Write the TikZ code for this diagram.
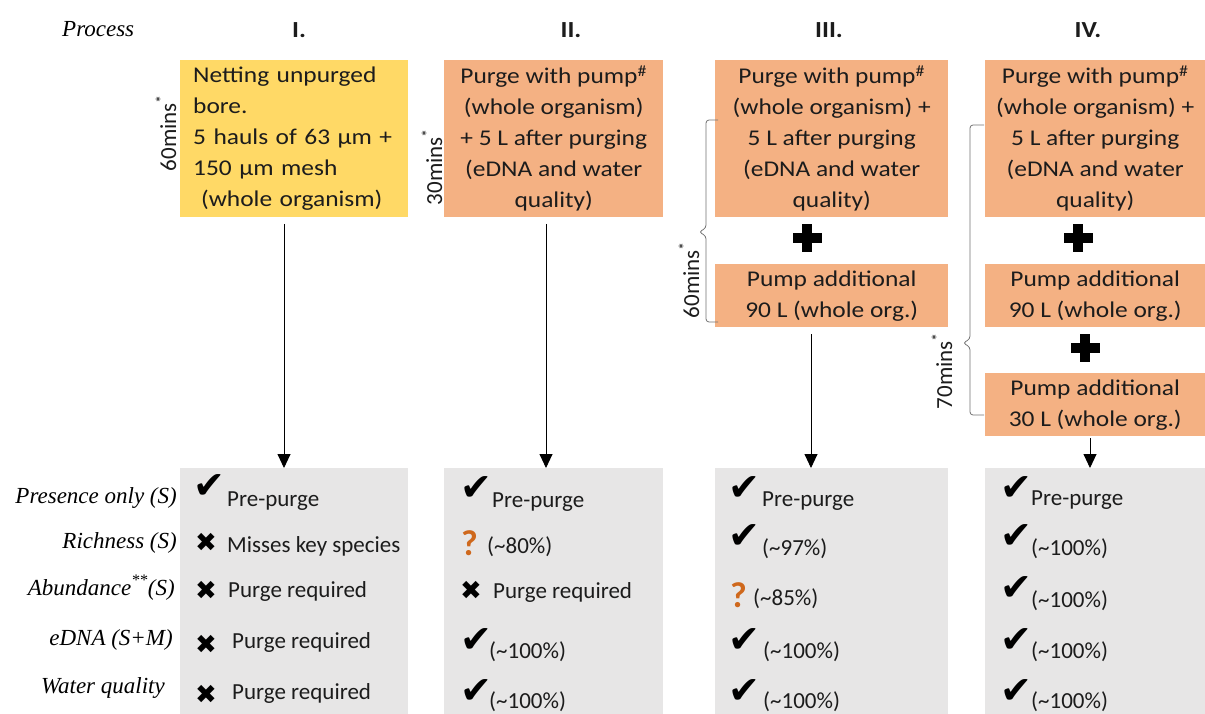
\documentclass[tikz,border=0pt]{standalone}
\usepackage{fontspec}
\setmainfont{Carlito}
\newfontfamily\boxfont{Carlito}[FakeStretch=1.13]
\newfontfamily\timesf{Liberation Serif}
\newfontfamily\symf{DejaVu Sans}
\usetikzlibrary{arrows.meta}
\definecolor{ybox}{RGB}{255,217,102}
\definecolor{obox}{RGB}{244,177,131}
\definecolor{gbox}{RGB}{231,230,230}
\definecolor{qcol}{RGB}{207,104,28}
\definecolor{txt}{RGB}{28,28,28}
\definecolor{brc}{RGB}{115,115,115}
\tikzset{
  boxtxt/.style={inner sep=0pt, align=center, anchor=north west, text=txt,
    font=\boxfont\fontsize{22.5}{31}\selectfont},
  greybox/.style={fill=gbox, inner sep=0pt, anchor=north west, minimum height=246pt},
  hdr/.style={anchor=base, inner sep=0pt, text=txt, font=\boxfont\bfseries\fontsize{23}{26}\selectfont},
  rot/.style={rotate=90, inner sep=0pt, text=txt, font=\fontsize{23}{26}\selectfont},
  lab/.style={anchor=base east, inner sep=0pt, text=black, font=\timesf\itshape\fontsize{23}{26}\selectfont},
  val/.style={anchor=base west, inner sep=0pt, text=txt, font=\fontsize{23}{26}\selectfont},
  chk/.style={anchor=base west, inner sep=0pt, text=black, font=\symf\fontsize{38}{38}\selectfont},
  crs/.style={anchor=base west, inner sep=0pt, text=black, font=\symf\fontsize{26}{26}\selectfont},
  qm/.style={anchor=base west, inner sep=0pt, text=qcol, font=\bfseries\fontsize{36}{36}\selectfont},
  arr/.style={draw=black, line width=0.9pt, -{Triangle[width=13pt,length=14pt]}},
  bracestyle/.style={draw=brc, line width=0.8pt, rounded corners=3pt},
  heavyplus/.pic={\fill[black] (-14.5,-4.8) rectangle (14.5,4.8); \fill[black] (-4.8,-14) rectangle (4.8,14);}
}
\begin{document}
\begin{tikzpicture}[x=1pt,y=-1pt]
\fill[white] (0,0) rectangle (1205,714);
\path[use as bounding box] (0,0) rectangle (1205,714);

% headers
\node[anchor=base west, inner sep=0pt, font=\timesf\itshape\fontsize{23}{26}\selectfont] (proc) at (62,37) {Process};
\node[hdr] (h1) at (299,38) {I.};
\node[hdr] (h2) at (571,38) {II.};
\node[hdr] (h3) at (829,38) {III.};
\node[hdr] (h4) at (1088,38) {IV.};

% top boxes
\node[boxtxt, fill=ybox, minimum width=228pt, minimum height=157pt, text width=202pt, inner xsep=13pt, align=left] (b1) at (180,60)
  {Netting unpurged\\bore.\\5 hauls of 63 µm +\\150 µm mesh\\\hspace{0.35em}(whole organism)};
\node[boxtxt, fill=obox, minimum width=219pt, minimum height=157pt] (b2) at (444,60)
  {Purge with pump\textsuperscript{\#}\\(whole organism)\\+ 5 L after purging\\(eDNA and water\\quality)};
\node[boxtxt, fill=obox, minimum width=233pt, minimum height=157pt] (b3) at (715,60)
  {Purge with pump\textsuperscript{\#}\\(whole organism) +\\5 L after purging\\(eDNA and water\\quality)};
\node[boxtxt, fill=obox, minimum width=233pt, minimum height=63pt] (b3b) at (715,264)
  {Pump additional\\90 L (whole org.)};
\node[boxtxt, fill=obox, minimum width=220pt, minimum height=157pt] (b4) at (985,60)
  {Purge with pump\textsuperscript{\#}\\(whole organism) +\\5 L after purging\\(eDNA and water\\quality)};
\node[boxtxt, fill=obox, minimum width=220pt, minimum height=63pt] (b4b) at (985,264)
  {Pump additional\\90 L (whole org.)};
\node[boxtxt, fill=obox, minimum width=220pt, minimum height=63pt] (b4c) at (985,373)
  {Pump additional\\30 L (whole org.)};

% plus signs
\pic at (807,238) {heavyplus};
\pic at (1078,238) {heavyplus};
\pic at (1085,348) {heavyplus};

% braces and durations
\draw[bracestyle] (718,120) -- (706,120) -- (706,228) -- (699,232) -- (706,236) -- (706,322) -- (718,322);
\draw[bracestyle] (984,125) -- (970,125) -- (970,339) -- (963,343) -- (970,347) -- (970,415) -- (984,415);
\node[rot] (t1) at (166,133) {60mins\textsuperscript{*}};
\node[rot] (t2) at (432,167) {30mins\textsuperscript{*}};
\node[rot] (t3) at (689,280) {60mins\textsuperscript{*}};
\node[rot] (t4) at (942,371) {70mins\textsuperscript{*}};

% result boxes
\node[greybox, minimum width=228pt] (g1) at (180,468) {};
\node[greybox, minimum width=219pt] (g2) at (444,468) {};
\node[greybox, minimum width=233pt] (g3) at (715,468) {};
\node[greybox, minimum width=220pt] (g4) at (985,468) {};

% arrows
\coordinate (a1) at (284,224);
\coordinate (a2) at (546,224);
\coordinate (a3) at (811,334);
\coordinate (a4) at (1090,438);
\draw[arr] (a1) -- (a1 |- g1.north);
\draw[arr] (a2) -- (a2 |- g2.north);
\draw[arr] (a3) -- (a3 |- g3.north);
\draw[arr] (a4) -- (a4 |- g4.north);

% row labels
\node[lab] (l1) at (177,503) {Presence only (S)};
\node[lab] (l2) at (177,548) {Richness (S)};
\node[lab] (l3) at (175,595) {Abundance\textsuperscript{**}(S)};
\node[lab] (l4) at (173,645) {eDNA (S+M)};
\node[lab] (l5) at (165,693) {Water quality};

% column I
\node[chk] (s11) at (193,498) {✔};
\node[val] (v11) at (227,506) {Pre-purge};
\node[crs] (s12) at (195,551) {✖};
\node[val] (v12) at (227,552) {Misses key species};
\node[crs] (s13) at (195,599) {✖};
\node[val] (v13) at (228,597) {Purge required};
\node[crs] (s14) at (195,653) {✖};
\node[val] (v14) at (232,648) {Purge required};
\node[crs] (s15) at (195,703) {✖};
\node[val] (v15) at (232,699) {Purge required};

% column II
\node[chk] (s21) at (460,500) {✔};
\node[val] (v21) at (492,507) {Pre-purge};
\node[qm] (s22) at (461,555) {?};
\node[val] (v22) at (487,553) {(\textasciitilde80\%)};
\node[crs] (s23) at (460,599) {✖};
\node[val] (v23) at (493,598) {Purge required};
\node[chk] (s24) at (460,652) {✔};
\node[val] (v24) at (489,658) {(\textasciitilde100\%)};
\node[chk] (s25) at (460,703) {✔};
\node[val] (v25) at (489,708) {(\textasciitilde100\%)};

% column III
\node[chk] (s31) at (728,500) {✔};
\node[val] (v31) at (762,506) {Pre-purge};
\node[chk] (s32) at (728,548) {✔};
\node[val] (v32) at (762,555) {(\textasciitilde97\%)};
\node[qm] (s33) at (730,607) {?};
\node[val] (v33) at (753,605) {(\textasciitilde85\%)};
\node[chk] (s34) at (728,652) {✔};
\node[val] (v34) at (763,658) {(\textasciitilde100\%)};
\node[chk] (s35) at (728,703) {✔};
\node[val] (v35) at (763,708) {(\textasciitilde100\%)};

% column IV
\node[chk] (s41) at (1000,500) {✔};
\node[val] (v41) at (1031,505) {Pre-purge};
\node[chk] (s42) at (1000,548) {✔};
\node[val] (v42) at (1031,555) {(\textasciitilde100\%)};
\node[chk] (s43) at (1000,600) {✔};
\node[val] (v43) at (1031,607) {(\textasciitilde100\%)};
\node[chk] (s44) at (1000,652) {✔};
\node[val] (v44) at (1031,658) {(\textasciitilde100\%)};
\node[chk] (s45) at (1000,703) {✔};
\node[val] (v45) at (1031,708) {(\textasciitilde100\%)};
\end{tikzpicture}
\end{document}
